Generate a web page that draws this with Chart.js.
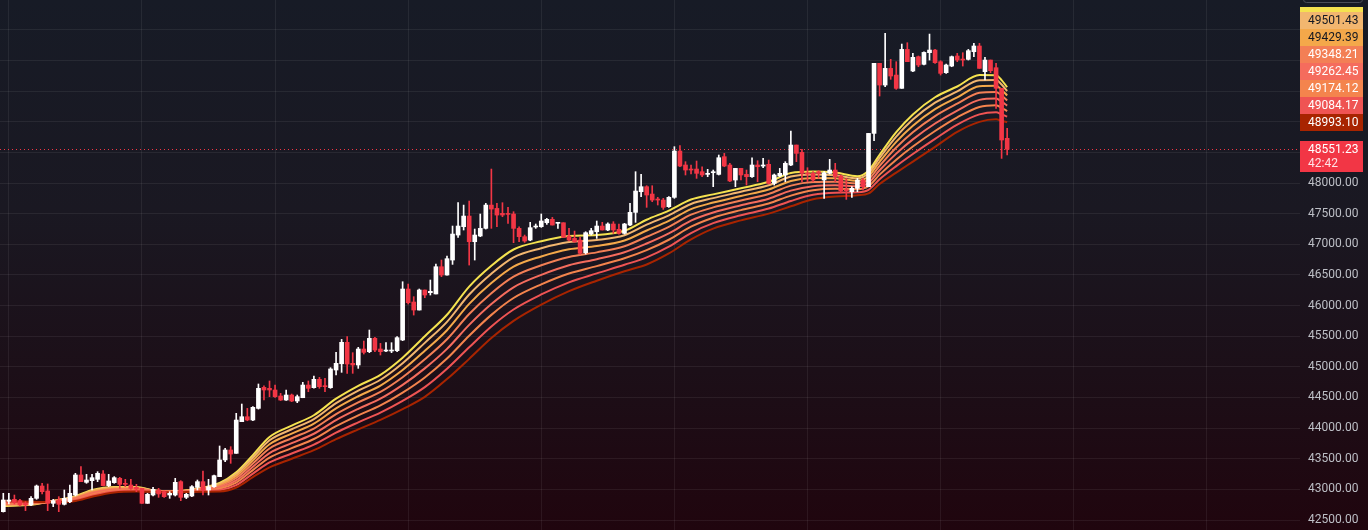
<!DOCTYPE html>
<html><head><meta charset="utf-8">
<script src="https://cdn.jsdelivr.net/npm/chart.js@4.4.0/dist/chart.umd.min.js"></script>
<style>html,body{margin:0;padding:0;background:#171b26;overflow:hidden}canvas{display:block}</style>
</head><body><canvas id="c" width="1368" height="530"></canvas>
<script>
// ---- candle data (index 0..181) ----
const opens=[42636,42805,42838,42816,42772,42745,42854,43055,42974,42772,42827,42756,42800,42908,43235,43115,43142,43164,43251,43061,43110,43180,43099,43071,43033,43017,42772,42908,42990,42963,42908,42908,43126,42870,42892,43033,43126,42990,43044,43208,43480,43643,43588,
44105,44186,44132,44322,44665,44649,44622,44524,44458,44540,44442,44496,44703,44660,44796,44692,44660,44948,45050,
45400,45057,45030,45291,45247,45465,45291,45258,45258,45263,45438,46270,46058,45927,46254,46210,46189,46634,46498,46743,47151,47287,47461,47042,
47135,47260,47640,47586,47505,47494,47494,47260,47124,47069,47282,47287,47352,47407,47342,47352,47135,47096,47069,46863,47167,47205,47298,47233,47331,47244,47178,47314,47521,
47858,47940,47820,47739,47722,47614,47766,48522,48294,48228,48228,48185,48141,48168,48141,48430,48294,48049,48239,48141,48103,48294,48277,48305,47994,48114,48131,48294,48620,48500,48158,48158,48185,48049,48158,48212,48114,47886,47858,47913,48049,
47940,48810,49953,49599,49871,49762,49545,50181,49828,50062,49937,50127,50170,49980,49801,49909,50073,50018,50018,50143,50236,49817,50007,49882,49546,48729];
const highs=[42936,42936,42908,42838,42800,42881,43071,43099,43088,42838,42881,42990,43071,43262,43371,43246,43246,43289,43306,43246,43208,43197,43164,43164,43082,43017,42936,43033,43017,42974,42963,43180,43142,42936,43061,43153,43300,43164,43235,43708,43670,43697,44241,
44393,44322,44350,44720,44692,44769,44703,44567,44622,44556,44540,44747,44769,44850,44828,44812,44986,45237,45448,
45492,45231,45318,45421,45601,45481,45383,45394,45394,45492,46389,46351,46145,46270,46254,46417,46678,46743,46808,47298,47679,47640,47706,47249,
47494,47668,48228,47668,47679,47602,47532,47287,47151,47358,47331,47494,47423,47439,47352,47352,47260,47216,47113,47205,47260,47380,47358,47352,47369,47331,47342,47668,48185,
48141,47956,47956,47766,47750,47777,48593,48609,48348,48294,48359,48266,48223,48212,48457,48484,48321,48239,48239,48212,48413,48364,48402,48375,48147,48239,48348,48848,48620,48549,48250,48185,48201,48185,48386,48321,48131,48076,47940,48076,48076,
48810,49953,49953,50442,50018,49980,50268,50290,50116,50073,50143,50431,50181,49996,49942,50073,50116,50127,50181,50279,50279,50051,50007,49953,49546,48892];
const lows=[42630,42762,42762,42729,42653,42734,42838,42925,42653,42718,42636,42745,42783,42892,43126,43099,42990,43126,43055,43044,43099,43017,43044,43001,42963,42772,42772,42892,42870,42870,42854,42892,42816,42849,42881,42990,42908,42908,43033,43208,43452,43425,43588,
44105,44120,44120,44310,44458,44513,44502,44450,44450,44431,44415,44496,44594,44650,44649,44594,44649,44866,44910,
44894,44894,44975,45209,45231,45247,45193,45247,45231,45247,45427,46025,45845,45927,46128,46172,46189,46471,46498,46672,47113,47233,46661,46743,
47124,47249,47260,47287,47450,47342,47026,47042,47031,47058,47260,47276,47325,47314,47260,47113,47053,47031,46835,46841,47151,47096,47233,47222,47178,47167,47167,47303,47358,
47777,47603,47695,47641,47570,47603,47750,48266,48131,48147,48076,48103,48103,47940,48131,48266,48022,47940,48049,47967,48092,48022,48250,47984,47967,48103,48022,48283,48348,48022,48022,48022,48076,47750,48147,48022,47842,47733,47766,47858,47886,
47940,48691,49420,49572,49692,49529,49545,49980,49817,49898,49926,50007,49953,49762,49790,49898,49980,49909,50007,50062,49871,49681,49801,49218,48402,48457];
const closes=[42827,42827,42794,42745,42745,42854,43055,42963,42772,42816,42756,42854,42936,43235,43126,43153,43191,43262,43061,43137,43191,43082,43082,43017,43006,42772,42919,43001,42925,42881,42936,43115,42870,42919,43044,43126,42990,43044,43224,43480,43643,43577,44132,
44186,44132,44339,44649,44622,44622,44513,44458,44540,44442,44513,44703,44649,44796,44676,44676,44965,45057,45400,
45046,45030,45291,45236,45465,45274,45247,45274,45274,45476,46270,46047,45927,46254,46172,46232,46634,46498,46765,47167,47298,47461,47042,47151,
47260,47640,47575,47477,47477,47488,47260,47124,47053,47271,47292,47380,47407,47314,47352,47113,47069,47042,46852,47189,47222,47298,47233,47331,47233,47178,47331,47521,47869,
47940,47804,47722,47722,47603,47766,48522,48277,48212,48212,48158,48131,48158,48185,48413,48277,48033,48239,48131,48103,48294,48266,48294,47994,48131,48158,48321,48620,48484,48158,48147,48049,48158,48168,48212,48103,47869,47875,47913,48049,47940,
48810,49953,49599,49871,49746,49545,50181,49980,50051,49926,50132,50170,49964,49790,49926,50062,50007,50007,50160,50236,49871,50007,49833,49546,48702,48551.23];

// ---- EMA ribbon, values read at these candle indices ----
const emaIdx=[0,5,10,13,16,20,24,27,31,35,39,42,45,48,52,56,60,64,68,72,76,80,84,88,92,97,102,107,112,116,120,124,128,133,138,142,146,150,154,156,158,161,164,168,172,176,179,180,181];
const ema1=[42730,42750,42830,42890,42990,43040,43040,42985,42970,43015,43105,43280,43560,43855,44040,44210,44480,44690,44870,45150,45500,45850,46310,46650,46915,47050,47135,47151,47220,47400,47550,47730,47815,47915,48020,48165,48190,48170,48110,48200,48460,48830,49120,49400,49575,49762,49760,49680,49563.40];
const ema2=[42739,42756,42826,42881,42978,43030,43032,42982,42968,43009,43090,43252,43520,43801,43981,44147,44407,44612,44789,45058,45391,45734,46180,46520,46787,46936,47036,47069,47147,47320,47473,47658,47753,47857,47963,48105,48140,48127,48076,48159,48408,48757,49035,49311,49494,49678,49681,49607,49501.43];
const ema3=[42749,42762,42822,42871,42964,43018,43022,42979,42966,43002,43071,43220,43474,43736,43910,44073,44322,44520,44694,44948,45262,45598,46027,46367,46635,46802,46919,46972,47062,47225,47382,47574,47681,47789,47895,48034,48081,48076,48036,48111,48346,48672,48935,49206,49397,49579,49587,49520,49429.39];
const ema4=[42760,42769,42817,42860,42948,43006,43012,42975,42964,42995,43052,43185,43423,43667,43835,43993,44229,44420,44591,44831,45124,45451,45862,46202,46472,46657,46793,46868,46969,47123,47284,47483,47602,47715,47822,47958,48017,48022,47992,48059,48279,48579,48827,49092,49294,49472,49486,49427,49348.21];
const ema5=[42772,42777,42811,42848,42932,42992,43000,42972,42962,42987,43031,43147,43369,43593,43754,43908,44130,44314,44480,44705,44975,45293,45685,46025,46298,46501,46658,46756,46870,47013,47179,47385,47518,47637,47744,47876,47949,47963,47946,48004,48208,48480,48712,48971,49183,49357,49378,49328,49262.45];
const ema6=[42784,42784,42806,42836,42915,42979,42989,42968,42960,42979,43010,43110,43315,43518,43673,43822,44031,44207,44370,44579,44827,45136,45508,45848,46123,46346,46523,46644,46771,46904,47074,47288,47434,47558,47666,47794,47881,47905,47899,47948,48137,48381,48596,48849,49072,49242,49270,49228,49174.12];
const ema7=[42797,42792,42801,42823,42898,42964,42977,42964,42957,42970,42987,43070,43258,43439,43586,43731,43926,44094,44253,44444,44668,44968,45319,45659,45936,46181,46379,46525,46666,46787,46962,47184,47345,47474,47583,47707,47808,47842,47850,47889,48061,48276,48473,48720,48953,49120,49154,49121,49084.17];
const ema8=[42810,42800,42795,42810,42880,42950,42965,42960,42955,42962,42965,43030,43200,43360,43500,43640,43820,43980,44135,44310,44510,44800,45130,45470,45750,46015,46235,46406,46560,46670,46850,47080,47255,47390,47500,47620,47735,47780,47800,47830,47985,48170,48350,48590,48835,48998,49039,49015,48993.10];

const yTicks=[42500,43000,43500,44000,44500,45000,45500,46000,46500,47000,47500,48000,48500,49000,49500,50000,50500];
const xGrid=[1,25,49,73,97,121,145,169,193,217];
const countdown='42:42';

const UP='#ffffff', DN='#f23645';
const GRID='rgba(255,255,255,0.065)';
const emaColors=['#f5e24f','#f2b66f','#f4a84a','#f37f55','#f56c5d','#f4844d','#ef5453','#a82400'];
const emaText=['#131722','#131722','#131722','#ffffff','#ffffff','#ffffff','#ffffff','#ffffff'];
const emaSeries=[ema1,ema2,ema3,ema4,ema5,ema6,ema7,ema8];

const cColors=closes.map((c,i)=>c>=opens[i]?UP:DN);
const wickData=opens.map((o,i)=>({x:i,y:[lows[i],highs[i]]}));
const bodyData=opens.map((o,i)=>({x:i,y:[o,closes[i]]}));

const datasets=[
  {type:'bar',data:wickData,backgroundColor:cColors,barThickness:1,grouped:false,order:1,minBarLength:1},
  {type:'bar',data:bodyData,backgroundColor:cColors,barThickness:4,grouped:false,order:0,minBarLength:1}
];
emaSeries.forEach((s,k)=>{
  datasets.push({type:'line',data:emaIdx.map((x,j)=>({x:x,y:s[j]})),borderColor:emaColors[k],borderWidth:2,
    pointRadius:0,cubicInterpolationMode:'monotone',fill:false,order:20-k});
});

const FONT='Roboto, "Noto Sans", sans-serif';
const bgPlugin={id:'bg',beforeDraw(chart){const {ctx,width,height}=chart;const g=ctx.createLinearGradient(0,0,0,height);
  g.addColorStop(0,'#171b26');g.addColorStop(0.4,'#1a1822');g.addColorStop(0.7,'#1c0f18');g.addColorStop(1,'#20050e');
  ctx.save();ctx.fillStyle=g;ctx.fillRect(0,0,width,height);ctx.restore();},
  beforeDatasetsDraw(chart){const {ctx,chartArea}=chart;const y=Math.round(chart.scales.y.getPixelForValue(closes[closes.length-1]))+0.5;
  ctx.save();ctx.strokeStyle=DN;ctx.lineWidth=1;ctx.setLineDash([1,3]);ctx.beginPath();ctx.moveTo(chartArea.left,y);ctx.lineTo(chartArea.right,y);ctx.stroke();ctx.restore();},
  afterDraw(chart){const {ctx,chartArea}=chart;const ys=chart.scales.y;const x0=chartArea.right;const bw=63;const bh=17;
  ctx.save();ctx.font='12px '+FONT;ctx.textBaseline='middle';ctx.textAlign='left';
  const last=emaSeries.map(s=>s[s.length-1]);
  let c=Infinity;const centers=[];
  for(let k=7;k>=0;k--){const n=ys.getPixelForValue(last[k]);c=Math.min(n,c-bh);centers[k]=c;}
  for(let k=7;k>=0;k--){const t=Math.round(centers[k]-bh/2);ctx.fillStyle=emaColors[k];ctx.fillRect(x0,t,bw,bh);
    ctx.fillStyle=emaText[k];ctx.fillText(last[k].toFixed(2),x0+8,t+bh/2+0.5);}
  // overlay box at very top of price scale, hiding most of the first label
  ctx.fillStyle='#181b25';ctx.fillRect(x0,0,68,7);
  ctx.strokeStyle='#4a4d58';ctx.lineWidth=1;ctx.beginPath();
  if(ctx.roundRect){ctx.roundRect(x0+3.5,-10.5,59,13,3);}else{ctx.rect(x0+3.5,-10.5,59,13);}ctx.fill();ctx.stroke();
  // current price
  const py=ys.getPixelForValue(closes[closes.length-1]);const t=Math.round(py-8.5);
  ctx.fillStyle='#f23645';ctx.fillRect(x0,t,bw,31);
  ctx.fillStyle='#ffffff';ctx.fillText(closes[closes.length-1].toFixed(2),x0+8,t+8.5);
  ctx.fillStyle='#ffe3e6';ctx.fillText(countdown,x0+8,t+23);
  ctx.restore();}
};

new Chart(document.getElementById('c'),{
  type:'bar',
  data:{datasets:datasets},
  options:{responsive:false,animation:false,
    layout:{padding:0},
    plugins:{legend:{display:false},tooltip:{enabled:false}},
    scales:{
      x:{type:'linear',min:-0.595,max:233.8,offset:false,grid:{color:GRID,drawTicks:false,offset:false},border:{display:false},
        ticks:{display:false},afterBuildTicks:s=>{s.ticks=xGrid.map(v=>({value:v}));},
        afterFit:s=>{s.height=0;s.paddingLeft=0;s.paddingRight=0;s.paddingTop=0;s.paddingBottom=0;}},
      y:{type:'linear',position:'right',min:42337,max:50987,grid:{color:GRID,drawTicks:false},border:{display:false},
        ticks:{color:'#bdbfc6',font:{family:FONT,size:12},padding:8,autoSkip:false,callback:v=>v<=48000?Number(v).toFixed(2):''},
        afterBuildTicks:s=>{s.ticks=yTicks.map(v=>({value:v}));},
        afterFit:s=>{s.width=68;s.paddingTop=0;s.paddingBottom=0;s.paddingLeft=0;s.paddingRight=0;}}
    }
  },
  plugins:[bgPlugin]
});
</script>
</body></html>
